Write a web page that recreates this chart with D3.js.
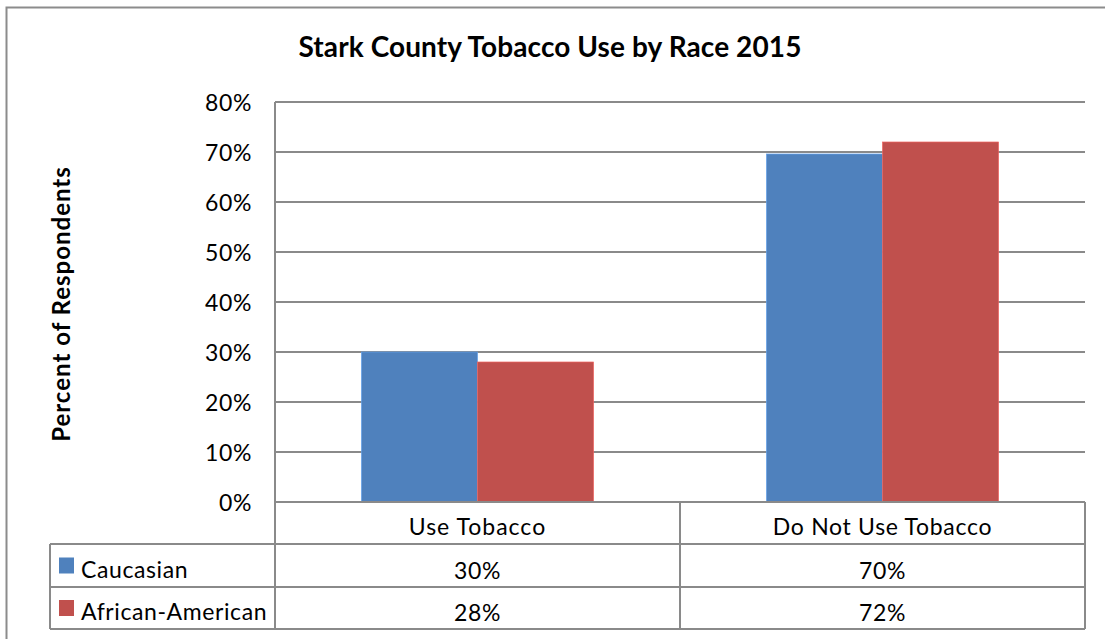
<!DOCTYPE html>
<html><head><meta charset="utf-8">
<script src="https://cdn.jsdelivr.net/npm/d3@7/dist/d3.min.js"></script>
<style>body{margin:0;background:#fff}svg{display:block}text{font-family:Lato,"Open Sans",sans-serif;fill:#000}</style>
</head><body><svg id="c" width="1105" height="639"></svg>
<script>
const title = "Stark County Tobacco Use by Race 2015";
const yLabel = "Percent of Respondents";
const categories = ["Use Tobacco", "Do Not Use Tobacco"];
const seriesNames = ["Caucasian", "African-American"];
const caucasian = [30, 69.6];
const africanAmerican = [28, 72];
const tableLabels = [["30%", "70%"], ["28%", "72%"]];
const yTicks = [0, 10, 20, 30, 40, 50, 60, 70, 80];
const colors = ["#4F81BD", "#C0504D"];

const series = [caucasian, africanAmerican];
const svg = d3.select("#c");
const L = 275, R = 1085, T = 102, B = 502;
const grid = "#8a8a8a";
const FS = 23, LS = 0.6;

// outer border
svg.append("rect").attr("x", 6.5).attr("y", 7.5).attr("width", 1110).attr("height", 650)
  .attr("fill", "none").attr("stroke", "#8c8c8c").attr("stroke-width", 2);

svg.append("text").attr("x", 550).attr("y", 57).attr("text-anchor", "middle")
  .attr("font-weight", "bold").attr("font-size", 28).attr("letter-spacing", 0.1).text(title);

const y = d3.scaleLinear().domain([0, 80]).range([B, T]);
const x0 = d3.scaleBand().domain(categories).range([L, R]).paddingInner(0.427).paddingOuter(0.2135);
const x1 = d3.scaleBand().domain(seriesNames).range([0, x0.bandwidth()]).padding(0);

// gridlines
svg.append("g").selectAll("line").data(yTicks.filter(d => d > 0)).join("line")
  .attr("x1", L).attr("x2", R).attr("y1", d => y(d)).attr("y2", d => y(d))
  .attr("stroke", grid).attr("stroke-width", 2);

// y axis
const yAxis = svg.append("g").attr("transform", `translate(${L},0)`)
  .call(d3.axisLeft(y).tickValues(yTicks).tickSize(0).tickPadding(23).tickFormat(d => d + "%"));
yAxis.select(".domain").remove();
yAxis.selectAll("text").attr("font-size", FS).attr("letter-spacing", LS).attr("dy", "0.38em")
  .attr("font-family", "Lato, sans-serif");
svg.append("line").attr("x1", L).attr("x2", L).attr("y1", T).attr("y2", B)
  .attr("stroke", grid).attr("stroke-width", 2);

svg.append("text").attr("transform", "translate(70,304) rotate(-90)").attr("text-anchor", "middle")
  .attr("font-weight", "bold").attr("font-size", 24).attr("letter-spacing", 1).text(yLabel);

// bars
const groups = svg.append("g").selectAll("g").data(categories).join("g")
  .attr("transform", d => `translate(${x0(d)},0)`);
groups.selectAll("rect").data((c, ci) => seriesNames.map((s, si) => ({s, si, v: series[si][ci]}))).join("rect")
  .attr("x", d => x1(d.s)).attr("width", x1.bandwidth())
  .attr("y", d => y(d.v)).attr("height", d => B - y(d.v))
  .attr("fill", d => colors[d.si]).attr("stroke", d => d3.color(colors[d.si]).brighter(0.6)).attr("stroke-width", 0.7);

// data table
const tL = 50, rowH = [502, 544, 587, 629];
const step = x0.step();
const colEdges = [L, L + step, L + 2 * step];
const tg = svg.append("g").attr("stroke", grid).attr("stroke-width", 2);
tg.append("line").attr("x1", L).attr("x2", R).attr("y1", rowH[0]).attr("y2", rowH[0]);
[1, 2, 3].forEach(i => tg.append("line").attr("x1", tL).attr("x2", R).attr("y1", rowH[i]).attr("y2", rowH[i]));
tg.append("line").attr("x1", tL).attr("x2", tL).attr("y1", rowH[1]).attr("y2", rowH[3]);
colEdges.forEach(xx => tg.append("line").attr("x1", xx).attr("x2", xx).attr("y1", rowH[0]).attr("y2", rowH[3]));

const off = 13;
categories.forEach((c, ci) => {
  const cx = x0(c) + x0.bandwidth() / 2;
  svg.append("text").attr("x", cx).attr("y", (rowH[0] + rowH[1]) / 2 + 12).attr("text-anchor", "middle")
    .attr("font-size", FS).attr("letter-spacing", ci === 0 ? 1 : 0.7).text(c);
  seriesNames.forEach((s, si) => {
    svg.append("text").attr("x", cx).attr("y", (rowH[si + 1] + rowH[si + 2]) / 2 + off).attr("text-anchor", "middle")
      .attr("font-size", FS).attr("letter-spacing", LS).text(tableLabels[si][ci]);
  });
});
seriesNames.forEach((s, si) => {
  const cy = (rowH[si + 1] + rowH[si + 2]) / 2;
  svg.append("rect").attr("x", 59).attr("y", cy - 8).attr("width", 15).attr("height", 16).attr("fill", colors[si]);
  svg.append("text").attr("x", 81).attr("y", cy + off - 1).attr("font-size", FS).attr("letter-spacing", LS).text(s);
});
</script></body></html>
